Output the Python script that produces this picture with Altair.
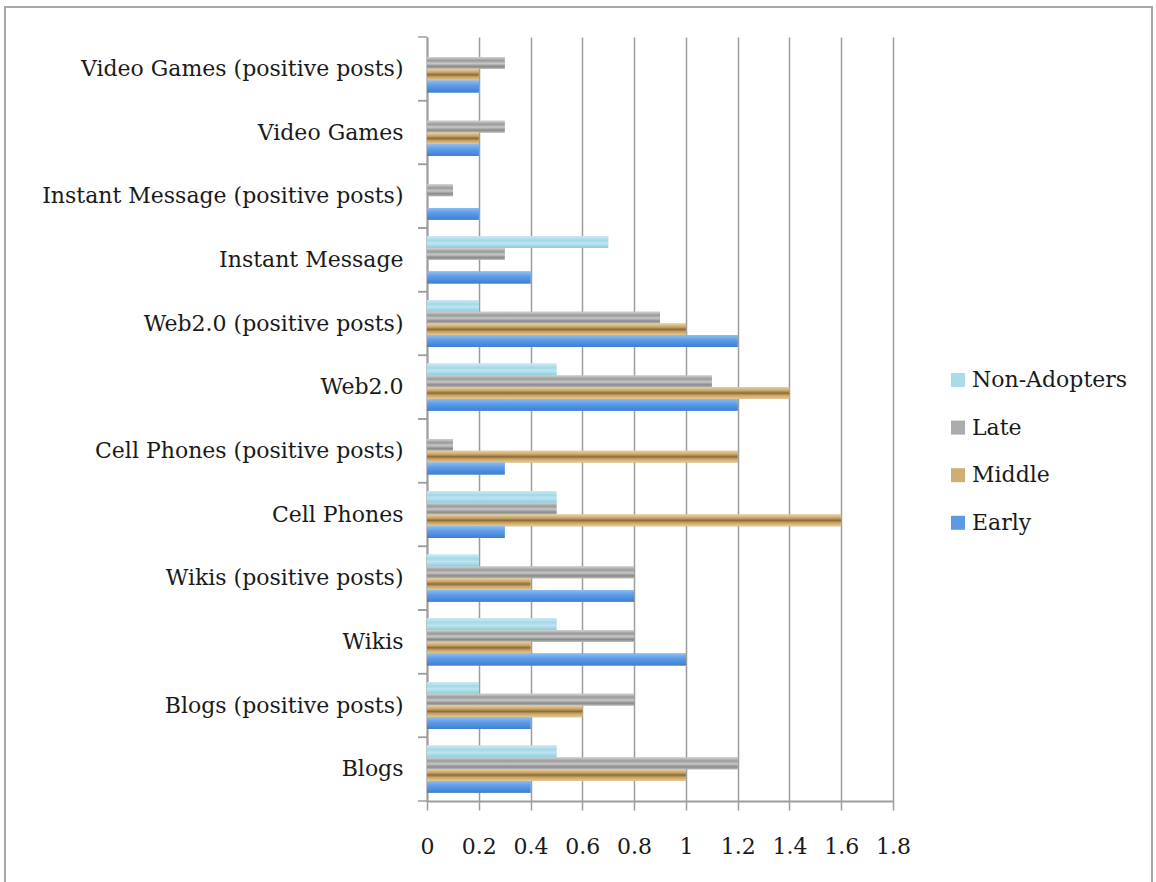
import altair as alt
import pandas as pd

# Categories listed bottom-up, the way the bars are stacked on the axis
categories = [
    "Blogs", "Blogs (positive posts)",
    "Wikis", "Wikis (positive posts)",
    "Cell Phones", "Cell Phones (positive posts)",
    "Web2.0", "Web2.0 (positive posts)",
    "Instant Message", "Instant Message (positive posts)",
    "Video Games", "Video Games (positive posts)",
]
early = [0.4, 0.4, 1.0, 0.8, 0.3, 0.3, 1.2, 1.2, 0.4, 0.2, 0.2, 0.2]
middle = [1.0, 0.6, 0.4, 0.4, 1.6, 1.2, 1.4, 1.0, 0.0, 0.0, 0.2, 0.2]
late = [1.2, 0.8, 0.8, 0.8, 0.5, 0.1, 1.1, 0.9, 0.3, 0.1, 0.3, 0.3]
non_adopters = [0.5, 0.2, 0.5, 0.2, 0.5, 0.0, 0.5, 0.2, 0.7, 0.0, 0.0, 0.0]

series = ["Non-Adopters", "Late", "Middle", "Early"]
series_colors = ["#a9dbe8", "#acacac", "#cfae72", "#5b9be6"]
x_ticks = [0, 0.2, 0.4, 0.6, 0.8, 1.0, 1.2, 1.4, 1.6, 1.8]

values_by_series = {"Early": early, "Middle": middle, "Late": late, "Non-Adopters": non_adopters}
rows = []
for name in series:
    for cat, v in zip(categories, values_by_series[name]):
        rows.append({"category": cat, "series": name, "value": v})
df = pd.DataFrame(rows)
cat_df = pd.DataFrame({"category": categories})

top_down = list(reversed(categories))
FONT = "DejaVu Serif"
GRID = "#9d9d9d"
WIDTH, HEIGHT = 466, 764
PAD_INNER = 0.26
PAD_OUTER = 0.13


def grad(stops):
    return alt.LinearGradient(
        gradient="linear", x1=0, x2=0, y1=0, y2=1,
        stops=[alt.GradientStop(color=c, offset=o) for o, c in stops],
    )


# Shaded fills that give each series its textured look
fills = {
    "Non-Adopters": grad([(0, "#c9ebf3"), (0.35, "#a3d8e7"), (0.6, "#bde5ef"), (1, "#8ccbdd")]),
    "Late": grad([(0, "#d2d2d2"), (0.3, "#9a9a9a"), (0.55, "#c6c6c6"), (0.8, "#8a8a8a"), (1, "#b5b5b5")]),
    "Middle": grad([(0, "#e6d2a4"), (0.3, "#c9a466"), (0.5, "#8d6b37"), (0.7, "#c9a466"), (1, "#e2cb96")]),
    "Early": grad([(0, "#8dbcf2"), (0.4, "#5e9de8"), (1, "#3f7fd0")]),
}

y_scale = alt.Scale(type="band", paddingInner=PAD_INNER, paddingOuter=PAD_OUTER)
y_axis = alt.Axis(
    ticks=False, grid=False, domain=True, domainColor=GRID, domainWidth=2,
    labelFont=FONT, labelFontSize=22, labelColor="#1a1a1a",
    labelPadding=24, labelLimit=500,
)
x_enc = alt.X(
    "value:Q", scale=alt.Scale(domain=[0, 1.8], nice=False), title=None,
    axis=alt.Axis(
        values=x_ticks, format="~g", grid=True, gridColor=GRID, gridWidth=1.5,
        domainColor=GRID, domainWidth=2, tickColor=GRID, tickWidth=1.5, tickSize=9,
        labelFont=FONT, labelFontSize=22, labelColor="#1a1a1a", labelPadding=26,
        labelOverlap=False, labelFlush=False,
    ),
)
y_enc = alt.Y("category:N", sort=top_down, scale=y_scale, title=None, axis=y_axis)
yoff = alt.YOffset("series:N", scale=alt.Scale(domain=series))

base = alt.Chart(df).encode(y=y_enc, x=x_enc, yOffset=yoff)

bars = base.mark_bar().encode(
    color=alt.Color(
        "series:N",
        scale=alt.Scale(domain=series, range=series_colors),
        legend=alt.Legend(
            title=None, orient="none", legendX=520, legendY=332,
            symbolType="square", symbolSize=196, symbolStrokeWidth=0,
            labelFont=FONT, labelFontSize=22, labelColor="#1a1a1a",
            labelOffset=3, rowPadding=25.6,
        ),
    )
)

shaded = [
    base.transform_filter(alt.datum.series == name).mark_bar(fill=fills[name])
    for name in series
]

# Small ticks on the category boundaries along the left edge:
# shift from the bar-group edge out to the step boundary
step = HEIGHT / (len(categories) - PAD_INNER + 2 * PAD_OUTER)
edge_px = step * PAD_INNER / 2


def band_ticks(position, shift):
    return alt.Chart(cat_df).mark_rule(
        color=GRID, strokeWidth=1.5, yOffset=shift
    ).encode(
        y=alt.Y("category:N", sort=top_down, scale=y_scale, title=None,
                bandPosition=position, axis=y_axis),
        x=alt.value(-9), x2=alt.value(0),
    )


frame = alt.Chart(pd.DataFrame({"k": [0]})).mark_rect(
    filled=False, stroke="#a8a8a8", strokeWidth=2
).encode(
    x=alt.value(-422), x2=alt.value(725), y=alt.value(-30), y2=alt.value(900)
)

chart = alt.layer(
    frame, bars, *shaded, band_ticks(0, -edge_px), band_ticks(1, edge_px)
).properties(
    width=WIDTH, height=HEIGHT,
    autosize=alt.AutoSizeParams(type="none"),
    padding={"left": 427, "top": 37, "right": 263, "bottom": 81},
    background="white",
).configure_view(strokeWidth=0)

chart.save("out.html", embed_options={"renderer": "svg", "actions": False})
